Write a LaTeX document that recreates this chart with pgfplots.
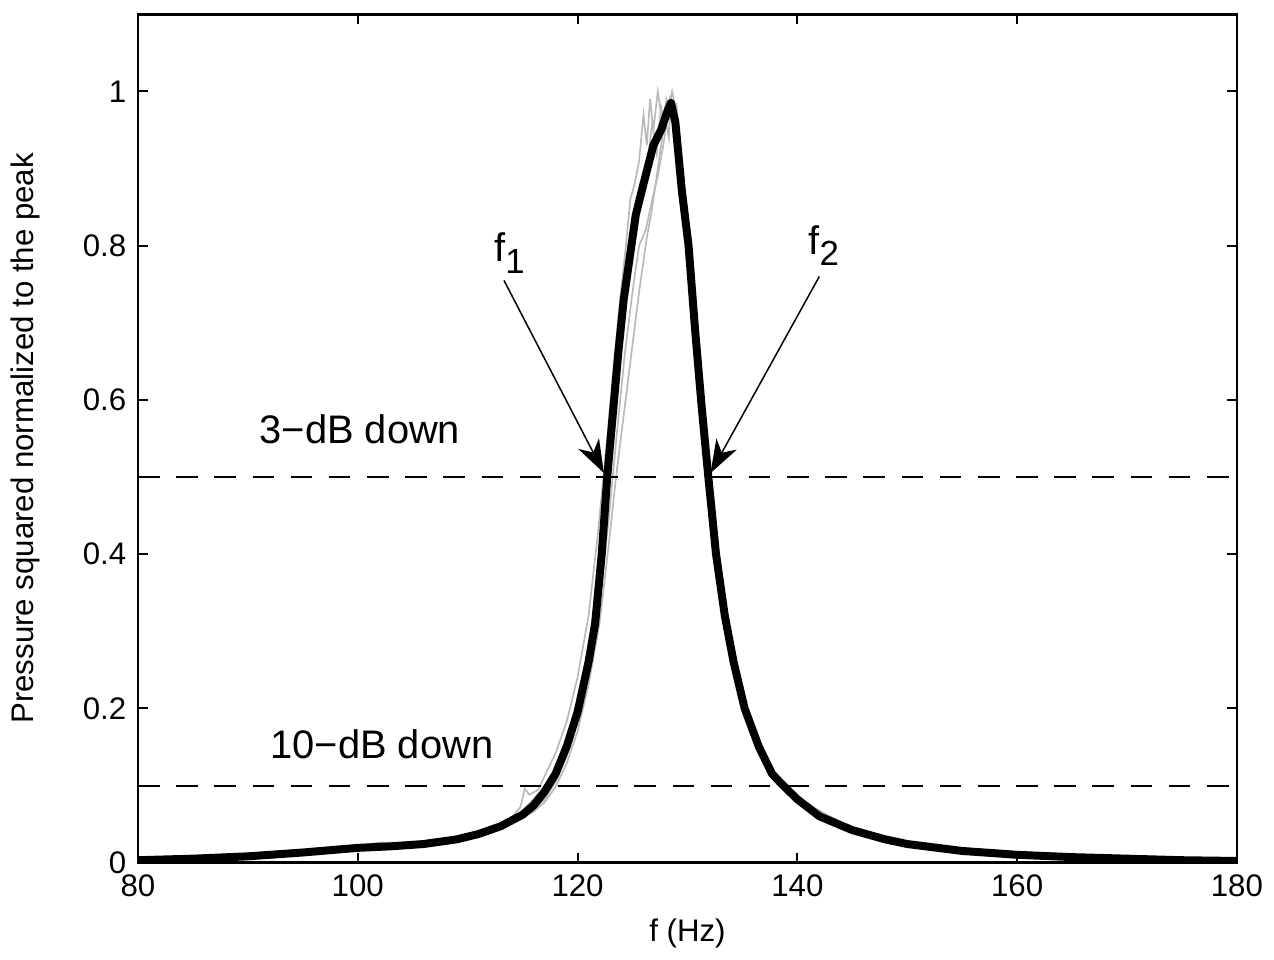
\documentclass[border=0pt]{standalone}
\usepackage{pgfplots}
\pgfplotsset{compat=1.18}
\usepackage{fontspec}
\setmainfont{Liberation Sans}
\usetikzlibrary{arrows.meta}

\pgfplotstableread{
f v
80 0.003
85 0.005
90 0.008
95 0.013
100 0.019
103 0.021
106 0.024
109 0.030
111 0.037
113 0.047
115 0.062
116 0.074
117 0.092
118 0.115
119 0.150
120 0.195
121 0.260
121.6 0.310
122.2 0.400
122.7 0.500
123.2 0.580
123.7 0.660
124.2 0.730
124.7 0.780
125.3 0.840
126.0 0.880
126.9 0.930
127.6 0.950
128.2 0.975
128.5 0.985
128.9 0.960
129.5 0.870
130.1 0.800
130.7 0.690
131.3 0.590
131.9 0.500
132.6 0.400
133.4 0.320
134.2 0.260
135.2 0.200
136.5 0.150
137.7 0.115
138.7 0.100
140 0.082
142 0.060
145 0.042
148 0.030
150 0.024
155 0.015
160 0.010
165 0.007
170 0.005
175 0.003
180 0.002
}\meanrun

\pgfplotstableread{
f v
80 0.004
90 0.009
100 0.022
102 0.025
104 0.023
106 0.027
108 0.029
110 0.036
112 0.044
114 0.058
114.8 0.072
115.2 0.096
115.6 0.088
116.4 0.094
117 0.112
118 0.142
119 0.182
120 0.240
121 0.320
121.8 0.420
122.5 0.520
123.2 0.630
123.8 0.720
124.4 0.800
124.8 0.860
125.2 0.880
125.6 0.910
126.0 0.970
126.3 0.930
126.6 0.990
126.9 0.950
127.3 1.000
127.7 0.960
128.1 0.990
128.5 0.970
128.9 0.950
129.4 0.880
130.0 0.800
130.7 0.690
131.3 0.590
131.9 0.500
132.6 0.400
133.4 0.320
134.2 0.260
135.2 0.200
136.5 0.150
137.7 0.115
138.7 0.100
140 0.082
145 0.043
150 0.025
160 0.011
170 0.005
180 0.002
}\runA

\pgfplotstableread{
f v
80 0.003
90 0.008
100 0.020
104 0.024
108 0.030
112 0.041
114 0.052
116 0.068
117 0.082
118 0.105
119 0.138
120 0.185
121 0.255
122 0.345
122.8 0.440
123.6 0.560
124.3 0.660
125.0 0.740
125.6 0.800
126.2 0.820
126.8 0.860
127.3 0.890
127.8 0.930
128.2 0.970
128.6 1.000
128.9 0.980
129.3 0.920
129.8 0.850
130.3 0.770
130.9 0.660
131.5 0.570
132.0 0.495
132.7 0.395
133.5 0.315
134.3 0.255
135.3 0.198
136.6 0.148
137.8 0.113
138.8 0.098
140 0.081
145 0.042
150 0.024
160 0.010
170 0.005
180 0.002
}\runB

\pgfplotstableread{
f v
80 0.004
90 0.009
100 0.021
102 0.026
105 0.025
108 0.031
111 0.040
113 0.050
114.5 0.060
115.5 0.075
116.5 0.090
117.5 0.100
118.2 0.125
119 0.160
120 0.210
121 0.280
122 0.380
122.6 0.470
123.3 0.570
124.0 0.680
124.6 0.760
125.1 0.820
125.7 0.860
126.3 0.900
126.8 0.960
127.2 0.920
127.6 0.980
128.0 0.950
128.4 0.990
128.8 0.970
129.2 0.900
129.8 0.840
130.4 0.750
131.0 0.650
131.6 0.560
132.1 0.490
132.8 0.390
133.6 0.310
134.4 0.250
135.4 0.195
136.7 0.147
137.9 0.112
138.9 0.097
140 0.083
145 0.044
150 0.025
160 0.011
170 0.005
180 0.002
}\runC

\pgfplotstableread{
f v
80 0.003
90 0.008
100 0.020
103 0.022
106 0.025
110 0.033
113 0.045
115 0.058
116 0.066
117 0.078
118 0.098
119 0.128
120 0.170
121 0.230
122 0.310
122.9 0.420
123.5 0.500
124.2 0.580
124.9 0.660
125.6 0.740
126.3 0.810
126.8 0.850
127.3 0.900
127.7 0.940
128.0 0.965
128.3 0.940
128.5 0.995
128.8 0.960
129.0 0.985
129.3 0.930
129.8 0.860
130.3 0.780
130.9 0.670
131.5 0.575
132.0 0.500
132.7 0.400
133.5 0.318
134.3 0.258
135.3 0.199
136.6 0.149
137.8 0.114
138.8 0.099
140 0.082
145 0.043
150 0.024
160 0.010
170 0.005
180 0.002
}\runD

\begin{document}
\begin{tikzpicture}[x=1pt,y=1pt]
\begin{axis}[
  scale only axis,
  width=331pt, height=255.5pt,
  xmin=80, xmax=180, ymin=0, ymax=1.1,
  xtick={80,100,...,180},
  ytick={0,0.2,0.4,0.6,0.8,1},
  yticklabels={0,0.2,0.4,0.6,0.8,1},
  tick align=inside, tick pos=both,
  major tick length=3pt,
  axis line style={line width=0.8pt},
  every tick/.style={black, line width=0.6pt},
  tick label style={font=\fontsize{9.4}{11}\selectfont},
  label style={font=\fontsize{9.4}{11}\selectfont},
  /pgf/number format/assume math mode=true,
  xlabel={f (Hz)},
  ylabel={Pressure squared normalized to the peak},
  ylabel style={yshift=6pt},
  clip=true,
]
\addplot[gray!55, line width=0.5pt] table {\runA};
\addplot[gray!55, line width=0.5pt] table {\runB};
\addplot[gray!55, line width=0.5pt] table {\runC};
\addplot[gray!55, line width=0.5pt] table {\runD};
\addplot[black, line width=2.4pt, line join=round] table {\meanrun};
\addplot[black, line width=0.7pt, dash pattern=on 6.5pt off 5pt] coordinates {(80,0.5) (180,0.5)};
\addplot[black, line width=0.7pt, dash pattern=on 6.5pt off 5pt] coordinates {(80,0.099) (180,0.099)};
\node[font=\fontsize{12}{14}\selectfont] at (axis cs:100.2,0.562) {3−dB down};
\node[font=\fontsize{12}{14}\selectfont] at (axis cs:102.2,0.153) {10−dB down};
\node[font=\fontsize{12}{14}\selectfont] at (axis cs:113.8,0.79) {f\raisebox{-0.55ex}{\fontsize{10.5}{12}\selectfont 1}};
\node[font=\fontsize{12}{14}\selectfont] at (axis cs:142.4,0.80) {f\raisebox{-0.55ex}{\fontsize{10.5}{12}\selectfont 2}};
\draw[line width=0.45pt, -{Stealth[length=10pt,width=7pt,inset=3pt]}] (axis cs:113.3,0.755) -- (axis cs:122.4,0.505);
\draw[line width=0.45pt, -{Stealth[length=10pt,width=7pt,inset=3pt]}] (axis cs:142.0,0.760) -- (axis cs:132.1,0.505);
\end{axis}
\path (current axis.north) ++(0,4.3pt);
\end{tikzpicture}
\end{document}
